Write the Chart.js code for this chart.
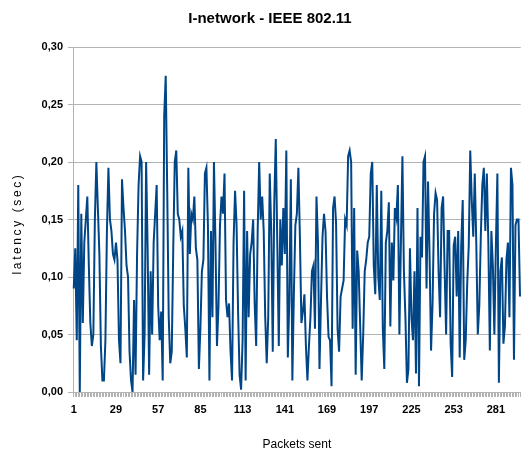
<!DOCTYPE html>
<html>
<head>
<meta charset="utf-8">
<script src="https://cdn.jsdelivr.net/npm/chart.js@4/dist/chart.umd.min.js"></script>
<style>
  html, body { margin: 0; padding: 0; background: #fff; }
  #wrap { width: 526px; height: 452px; }
</style>
</head>
<body>
<div id="wrap"><canvas id="chart"></canvas></div>
<script>
// --- DATOS ---
const chartTitle = "I-network - IEEE 802.11";
const xTitle = "Packets sent";
const yTitle = "latency (sec)";

// latencia por paquete (seg)
const latency = [
  0.09, 0.125, 0.045, 0.18, 0.0, 0.155, 0.06, 0.13, 0.15, 0.17, 0.11, 0.06, 0.04, 0.05, 0.15, 0.20, 0.16, 0.12, 0.04, 0.01,
  0.01, 0.045, 0.14, 0.195, 0.15, 0.14, 0.12, 0.115, 0.13, 0.115, 0.045, 0.025, 0.185, 0.16, 0.14, 0.11, 0.10, 0.035, 0.01, 0.0,
  0.08, 0.015, 0.12, 0.18, 0.205, 0.20, 0.01, 0.05, 0.20, 0.125,
  0.015, 0.105, 0.05, 0.13, 0.155, 0.18, 0.075, 0.045, 0.07, 0.01, 0.24, 0.275,
  0.175, 0.065, 0.025, 0.035, 0.125, 0.20, 0.21, 0.155, 0.15, 0.135, 0.14, 0.075, 0.055, 0.03, 0.195, 0.12, 0.155, 0.15,
  0.17, 0.125, 0.115, 0.02, 0.055, 0.105, 0.115, 0.19, 0.195, 0.145, 0.01, 0.14, 0.065, 0.20, 0.13, 0.04, 0.075, 0.145,
  0.17, 0.155, 0.19, 0.08, 0.065, 0.077, 0.035, 0.01, 0.13, 0.175, 0.145, 0.07, 0.015, 0.002, 0.045, 0.175, 0.01, 0.14, 0.065, 0.12,
  0.13, 0.15, 0.077, 0.04, 0.14, 0.20, 0.15, 0.17, 0.14, 0.065, 0.025, 0.065, 0.19, 0.14, 0.035, 0.165, 0.22, 0.13, 0.04, 0.15,
  0.11, 0.16, 0.12, 0.21, 0.03, 0.08, 0.185, 0.01, 0.085, 0.145,
  0.155, 0.195, 0.135, 0.06, 0.07, 0.085, 0.04, 0.01, 0.04, 0.065, 0.105, 0.11, 0.055, 0.17, 0.13, 0.02, 0.08, 0.135, 0.155, 0.14,
  0.083, 0.048, 0.045, 0.005, 0.16, 0.17, 0.147, 0.055, 0.035, 0.083, 0.09, 0.097, 0.15, 0.145, 0.205, 0.21, 0.20, 0.055, 0.16, 0.015,
  0.123, 0.105, 0.057, 0.01, 0.05, 0.105, 0.115, 0.13, 0.135, 0.19,
  0.20, 0.11, 0.085, 0.18, 0.10, 0.08, 0.175, 0.055, 0.02, 0.13, 0.14, 0.165, 0.057, 0.13, 0.097, 0.16, 0.152, 0.18, 0.05, 0.13,
  0.205, 0.105, 0.065, 0.008, 0.02, 0.125, 0.065, 0.045, 0.105, 0.016, 0.16, 0.005, 0.135, 0.117, 0.20, 0.205, 0.09, 0.183, 0.12, 0.036,
  0.077, 0.155, 0.173, 0.167, 0.105, 0.065, 0.16, 0.17, 0.106, 0.05, 0.14,
  0.14, 0.042, 0.013, 0.127, 0.135, 0.083, 0.14, 0.03, 0.127, 0.167, 0.028, 0.045, 0.095, 0.127, 0.21, 0.167, 0.135, 0.19, 0.13, 0.05,
  0.075, 0.135, 0.18, 0.195, 0.14, 0.19, 0.13, 0.036, 0.14, 0.11, 0.05, 0.127, 0.19, 0.008, 0.105, 0.117, 0.042, 0.057, 0.115, 0.13,
  0.065, 0.195, 0.18, 0.028, 0.145, 0.15, 0.15, 0.083
];

// número de paquete (1..N)
const packets = latency.map((_, i) => i + 1);

// etiquetas visibles del eje X
const xTickLabels = [1, 29, 57, 85, 113, 141, 169, 197, 225, 253, 281];

// eje Y
const yMin = 0;
const yMax = 0.3;
const yStep = 0.05;

// --- GRÁFICO ---
const GRID = "#b3b3b3";
const FONT = "'Liberation Sans', Arial, sans-serif";

// título del eje Y con espaciado entre letras (como en el original)
const yTitlePlugin = {
  id: "yTitleSpaced",
  afterDraw(chart) {
    const { ctx, chartArea } = chart;
    ctx.save();
    ctx.font = `12px ${FONT}`;
    ctx.fillStyle = "#000";
    ctx.textAlign = "center";
    ctx.textBaseline = "middle";
    if ("letterSpacing" in ctx) ctx.letterSpacing = "2.6px";
    ctx.translate(18, (chartArea.top + chartArea.bottom) / 2 + 4);
    ctx.rotate(-Math.PI / 2);
    ctx.fillText(yTitle, 0, 0);
    ctx.restore();
  },
};

new Chart(document.getElementById("chart"), {
  type: "line",
  data: {
    labels: packets,
    datasets: [
      {
        label: "latency",
        data: latency,
        borderColor: "#004586",
        borderWidth: 2,
        pointRadius: 0,
        tension: 0,
        fill: false,
      },
    ],
  },
  options: {
    responsive: true,
    maintainAspectRatio: false,
    animation: false,
    layout: { padding: { left: 14, right: 0, top: 0, bottom: 0 } },
    plugins: {
      legend: { display: false },
      tooltip: { enabled: false },
      title: {
        display: true,
        text: chartTitle,
        color: "#000",
        font: { family: FONT, size: 15, weight: "bold" },
        padding: { top: 10, bottom: 19 },
      },
    },
    scales: {
      x: {
        type: "category",
        offset: true,
        grid: { drawOnChartArea: false, drawTicks: true, tickLength: 5, color: GRID, offset: false },
        border: { color: GRID },
        ticks: {
          autoSkip: false,
          maxRotation: 0,
          minRotation: 0,
          padding: 6,
          color: "#000",
          font: { family: FONT, size: 11, weight: "bold" },
          callback: (v, i) => (xTickLabels.includes(packets[i]) ? String(packets[i]) : ""),
        },
        title: {
          display: true,
          text: xTitle,
          color: "#000",
          font: { family: FONT, size: 12 },
          padding: { top: 0, bottom: 0 },
        },
        afterFit: (s) => { s.height = 60; },
      },
      y: {
        min: yMin,
        max: yMax,
        grid: { color: GRID, tickLength: 5 },
        border: { color: GRID },
        ticks: {
          stepSize: yStep,
          padding: 5,
          color: "#000",
          font: { family: FONT, size: 11, weight: "bold" },
          callback: (v) => v.toFixed(2).replace(".", ","),
        },
        title: { display: false, text: yTitle },
        afterFit: (s) => { s.width = 59; },
      },
    },
  },
  plugins: [yTitlePlugin],
});
</script>
</body>
</html>
